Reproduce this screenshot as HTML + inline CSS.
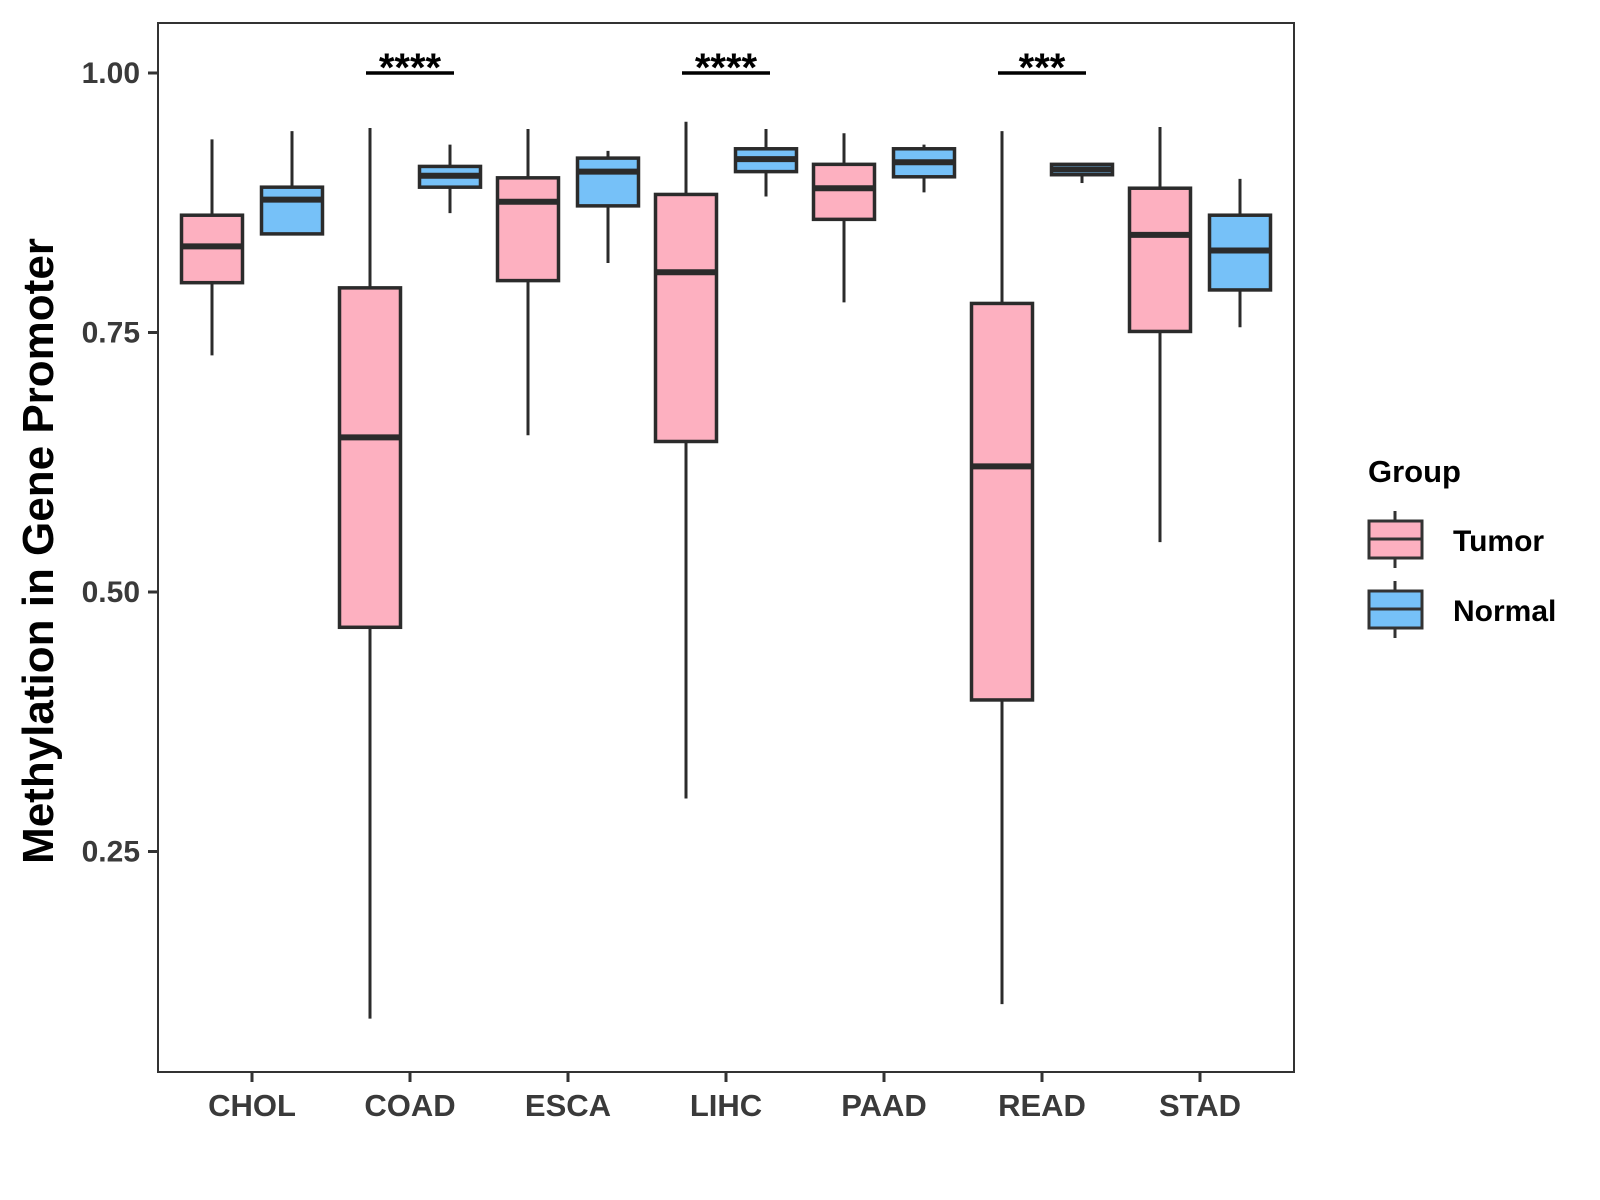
<!DOCTYPE html>
<html><head><meta charset="utf-8"><style>
body{margin:0;background:#fff;}
svg{display:block;font-family:"Liberation Sans",Arial,sans-serif;}
</style></head><body>
<svg id="chart" width="1600" height="1200" viewBox="0 0 1600 1200">
<rect width="1600" height="1200" fill="#fff"/>
<g id="marks"></g>
<rect x="158" y="23" width="1136" height="1049" fill="none" stroke="#333" stroke-width="2"/>
<text transform="translate(53,551) rotate(-90)" text-anchor="middle" font-size="44" font-weight="bold" fill="#000">Methylation in Gene Promoter</text>
<g>
<text x="1368" y="482" font-size="31" font-weight="bold">Group</text>
<g>
<line x1="1395" y1="511" x2="1395" y2="568" stroke="#333" stroke-width="3"/>
<rect x="1369" y="521" width="53" height="37" fill="#FDB0C0" stroke="#333" stroke-width="3"/>
<line x1="1369" y1="539" x2="1422" y2="539" stroke="#333" stroke-width="3"/>
<text x="1453" y="551" font-size="30" font-weight="bold">Tumor</text>
</g>
<g>
<line x1="1395" y1="581" x2="1395" y2="638" stroke="#333" stroke-width="3"/>
<rect x="1369" y="591" width="53" height="37" fill="#76C1F8" stroke="#333" stroke-width="3"/>
<line x1="1369" y1="609" x2="1422" y2="609" stroke="#333" stroke-width="3"/>
<text x="1453" y="621" font-size="30" font-weight="bold">Normal</text>
</g>
</g>
</svg>
<script>
const categories = ["CHOL","COAD","ESCA","LIHC","PAAD","READ","STAD"];
// [lowWhisker, q1, median, q3, highWhisker]
const tumorStats = [
 [0.728,0.798,0.833,0.863,0.936],
 [0.089,0.466,0.649,0.793,0.947],
 [0.651,0.800,0.876,0.899,0.946],
 [0.301,0.645,0.808,0.883,0.953],
 [0.779,0.859,0.889,0.912,0.942],
 [0.103,0.396,0.621,0.778,0.944],
 [0.548,0.751,0.844,0.889,0.948]
];
const normalStats = [
 [0.845,0.845,0.878,0.890,0.944],
 [0.865,0.890,0.901,0.910,0.931],
 [0.817,0.872,0.905,0.918,0.925],
 [0.881,0.905,0.917,0.927,0.946],
 [0.885,0.900,0.914,0.927,0.931],
 [0.894,0.902,0.907,0.912,0.913],
 [0.755,0.791,0.829,0.863,0.898]
];
const yTicks = [0.25,0.50,0.75,1.00];
const yTickLabels = ["0.25","0.50","0.75","1.00"];
const sigCategories = ["COAD","LIHC","READ"];
const sigLabels = ["****","****","***"];

const NS="http://www.w3.org/2000/svg";
const g=document.getElementById('marks');
const svg=document.getElementById('chart');
function yScale(v){return 73+(1-v)*1038;}
function xScale(i){return 252+i*158;}
function mk(tag,attrs,parent){const e=document.createElementNS(NS,tag);for(const k in attrs)e.setAttribute(k,attrs[k]);(parent||g).appendChild(e);return e;}

yTicks.forEach((t,i)=>{
  const y=yScale(t);
  const tk=mk('line',{x1:148,x2:158,y1:y,y2:y,stroke:'#333','stroke-width':3},svg);
  
  
  const tx=mk('text',{x:140,y:y+10,'text-anchor':'end','font-size':30,'font-weight':'bold',fill:'#3a3a3a'},svg);
  tx.textContent=yTickLabels[i];
  
  
});
categories.forEach((c,i)=>{
  const x=xScale(i);
  const tk=mk('line',{x1:x,x2:x,y1:1072,y2:1082,stroke:'#333','stroke-width':3},svg);
  
  
  const tx=mk('text',{x:x,y:1116,'text-anchor':'middle','font-size':31,'font-weight':'bold',fill:'#3a3a3a'},svg);
  tx.textContent=c;
  
  
});
function drawBox(cx,s,fill,name){
  const grp=mk('g',{});
  
  
  const w=61;
  mk('line',{x1:cx,x2:cx,y1:yScale(s[4]),y2:yScale(s[0]),stroke:'#2b2b2b','stroke-width':3},grp);
  mk('rect',{x:cx-w/2,y:yScale(s[3]),width:w,height:yScale(s[1])-yScale(s[3]),fill:fill,stroke:'#2b2b2b','stroke-width':3.5},grp);
  mk('line',{x1:cx-w/2,x2:cx+w/2,y1:yScale(s[2]),y2:yScale(s[2]),stroke:'#2b2b2b','stroke-width':6},grp);
}
categories.forEach((c,i)=>{
  drawBox(xScale(i)-40,tumorStats[i],'#FDB0C0','box-tumor-'+c.toLowerCase());
  drawBox(xScale(i)+40,normalStats[i],'#76C1F8','box-normal-'+c.toLowerCase());
});
sigCategories.forEach((c,k)=>{
  const i=categories.indexOf(c);
  const x=xScale(i);
  const y=yScale(1.0);
  const ln=mk('line',{x1:x-44,x2:x+44,y1:y,y2:y,stroke:'#000','stroke-width':3.5});
  
  
  const tx=mk('text',{x:x,y:y+8,'text-anchor':'middle','font-size':40,'font-weight':'bold',fill:'#000'});
  tx.textContent=sigLabels[k];
  
  
});
</script>
</body></html>
